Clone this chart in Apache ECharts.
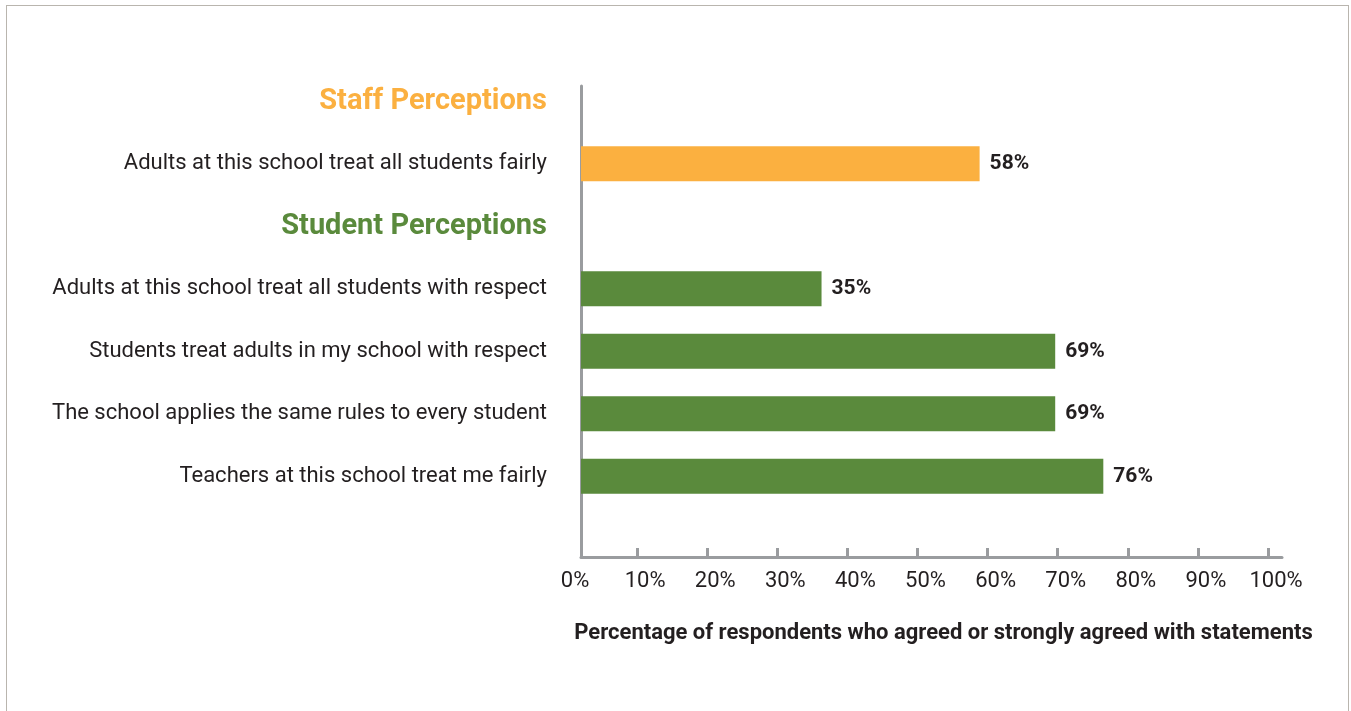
<!DOCTYPE html>
<html>
<head>
<meta charset="utf-8">
<script src="https://cdn.jsdelivr.net/npm/echarts@6/dist/echarts.min.js"></script>
<style>
  html, body { margin: 0; padding: 0; background: #fff; }
  #frame { position: absolute; left: 6px; top: 5px; width: 1343px; height: 720px; border: 1px solid #b9b5ae; box-sizing: border-box; }
  #chart { width: 1351px; height: 711px; }
</style>
</head>
<body>
<div id="frame"></div>
<div id="chart"></div>
<script>
const categories = [
  'Staff Perceptions',
  'Adults at this school treat all students fairly',
  'Student Perceptions',
  'Adults at this school treat all students with respect',
  'Students treat adults in my school with respect',
  'The school applies the same rules to every student',
  'Teachers at this school treat me fairly',
  ''
];
const headings = ['Staff Perceptions', 'Student Perceptions'];
const staffValues = [null, 58, null, null, null, null, null, null];
const studentValues = [null, null, null, 35, 69, 69, 76, null];
const tickValues = [0, 10, 20, 30, 40, 50, 60, 70, 80, 90, 100];

const FONT = 'Roboto, sans-serif';
const TEXT = '#231f20';
const ORANGE = '#fbb040';
const GREEN = '#5a8a3c';
const AXIS = '#9a9c9f';

const chart = echarts.init(document.getElementById('chart'));

const barLabel = {
  show: true,
  position: 'right',
  distance: 10,
  formatter: p => p.value + '%',
  fontFamily: FONT,
  fontWeight: 'bold',
  fontSize: 21,
  color: TEXT
};

const option = {
  animation: false,
  grid: [
    // bars + category labels
    { left: 581, right: 69, top: 70, bottom: 141, outerBoundsMode: 'none' },
    // axis lines
    { left: 581, right: 69, top: 86, bottom: 154, outerBoundsMode: 'none' },
    // ticks + tick labels
    { left: 567, right: 83, top: 86, bottom: 154, outerBoundsMode: 'none' }
  ],
  xAxis: [
    { gridIndex: 0, type: 'value', min: 0, max: 102, show: false },
    {
      gridIndex: 1, type: 'value', min: 0, max: 100,
      axisLine: { show: true, lineStyle: { color: AXIS, width: 3 } },
      axisTick: { show: false }, axisLabel: { show: false }, splitLine: { show: false },
      name: 'Percentage of respondents who agreed or strongly agreed with statements',
      nameLocation: 'middle', nameGap: 65,
      nameTextStyle: { fontFamily: FONT, fontWeight: 'bold', fontSize: 22, color: TEXT, padding: [0, 0, 0, 24] }
    },
    {
      gridIndex: 2, type: 'value', min: 0, max: 100, interval: 10,
      axisLine: { show: false },
      axisTick: { show: true, inside: true, length: 9, customValues: tickValues.slice(1), lineStyle: { color: AXIS, width: 3 } },
      axisLabel: {
        customValues: tickValues,
        formatter: v => v + '%',
        fontFamily: FONT, fontSize: 22, color: TEXT, margin: 13,
        padding: [0, 0, 0, 16]
      },
      splitLine: { show: false }
    }
  ],
  yAxis: [
    {
      gridIndex: 0, type: 'category', inverse: true, data: categories,
      axisLine: { show: false }, axisTick: { show: false },
      axisLabel: {
        margin: 34,
        fontFamily: FONT, fontSize: 22, color: TEXT,
        formatter: v => {
          if (v === headings[0]) return '{staff|' + v + '}';
          if (v === headings[1]) return '{student|' + v + '}';
          return v;
        },
        rich: {
          staff: { fontFamily: FONT, fontWeight: 'bold', fontSize: 29, color: ORANGE },
          student: { fontFamily: FONT, fontWeight: 'bold', fontSize: 29, color: GREEN }
        }
      }
    },
    {
      gridIndex: 1, type: 'value', min: 0, max: 1,
      axisLine: { show: true, lineStyle: { color: AXIS, width: 3 } },
      axisTick: { show: false }, axisLabel: { show: false }, splitLine: { show: false }
    },
    { gridIndex: 2, type: 'value', show: false }
  ],
  series: [
    {
      type: 'bar', xAxisIndex: 0, yAxisIndex: 0, stack: 'all',
      data: staffValues, barWidth: 35,
      itemStyle: { color: ORANGE }, label: barLabel
    },
    {
      type: 'bar', xAxisIndex: 0, yAxisIndex: 0, stack: 'all',
      data: studentValues, barWidth: 35,
      itemStyle: { color: GREEN }, label: barLabel
    }
  ]
};

chart.setOption(option);
</script>
</body>
</html>
